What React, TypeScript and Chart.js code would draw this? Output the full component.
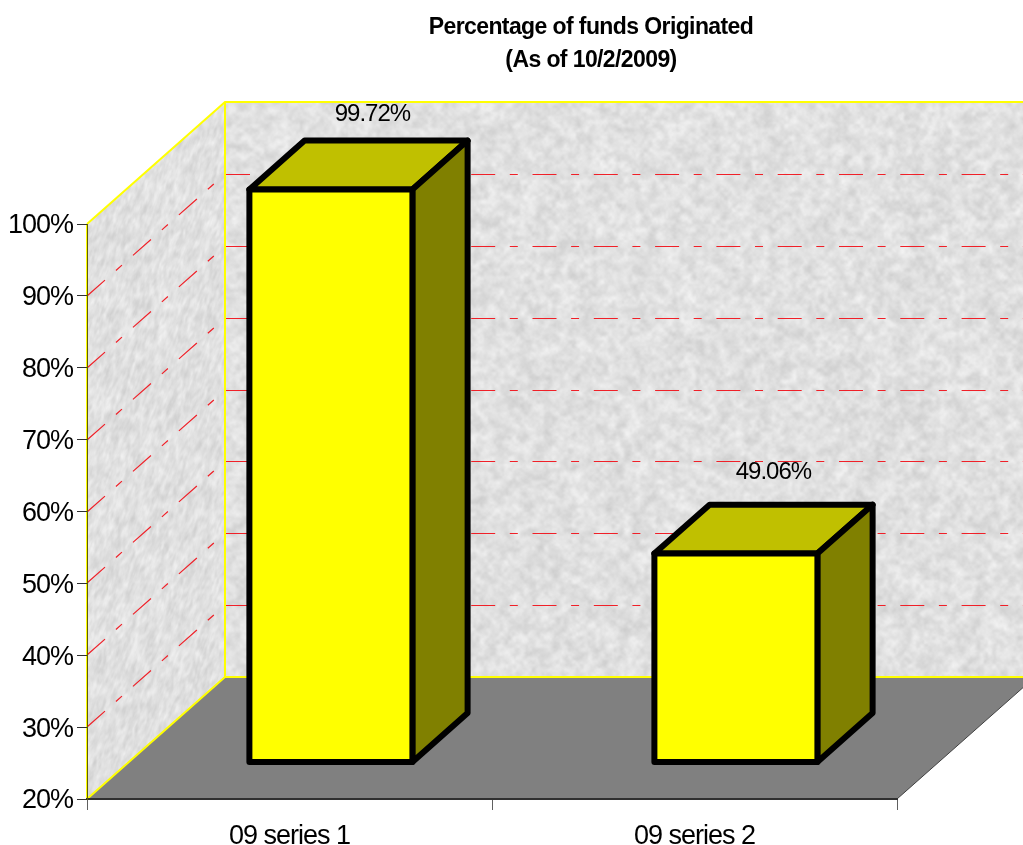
import React, { useEffect, useRef } from "react";
import { Chart, BarController, BarElement, CategoryScale, LinearScale, Title } from "chart.js";

const categories = ["09 series 1", "09 series 2"];
const fundedPercent = [99.72, 49.06];
const valueLabels = ["99.72%", "49.06%"];
const titleLines = ["Percentage of funds Originated", "(As of 10/2/2009)"];

// Projection of the chart's depth axis on the page.
const DEPTH_X = 138;
const DEPTH_Y = -122;
const BAR_DEPTH_START = 0.3;
const BAR_DEPTH_END = 0.7;

const FONT = "'Liberation Sans', Arial, sans-serif";
const TOP_FACE = "#c0c000";
const SIDE_FACE = "#808000";
const WALL_EDGE = "#ffff00";
const FLOOR = "#808080";
const GRID_RED = "#f02028";
const GRID_DASH = [24, 14.6, 8, 14.7];
const LABEL_SHIFT = [
  { dx: 41.5, dy: -26 },
  { dx: 37.5, dy: -32 },
];

// Mottled stone surface used on the walls, built from a seeded generator.
function makeStoneTexture(): HTMLCanvasElement {
  let seed = 20091002;
  const next = () => {
    seed = (seed * 1664525 + 1013904223) >>> 0;
    return seed / 4294967296;
  };
  const layer = (size: number) => {
    const c = document.createElement("canvas");
    c.width = c.height = size;
    const g = c.getContext("2d")!;
    const img = g.createImageData(size, size);
    for (let i = 0; i < img.data.length; i += 4) {
      const v = 202 + next() * 44;
      img.data[i] = img.data[i + 1] = img.data[i + 2] = v;
      img.data[i + 3] = 255;
    }
    g.putImageData(img, 0, 0);
    return c;
  };
  const out = document.createElement("canvas");
  out.width = out.height = 1200;
  const ctx = out.getContext("2d")!;
  ctx.imageSmoothingEnabled = true;
  ctx.imageSmoothingQuality = "high";
  ctx.drawImage(layer(150), 0, 0, 1200, 1200);
  ctx.globalAlpha = 0.5;
  ctx.drawImage(layer(300), 0, 0, 1200, 1200);
  ctx.globalAlpha = 0.15;
  ctx.drawImage(layer(600), 0, 0, 1200, 1200);
  ctx.globalAlpha = 1;
  return out;
}

function polygon(ctx: CanvasRenderingContext2D, pts: number[][]) {
  ctx.beginPath();
  pts.forEach(([x, y], i) => (i ? ctx.lineTo(x, y) : ctx.moveTo(x, y)));
  ctx.closePath();
}

// A bar drawn as a box standing on the floor, set back along the depth axis.
class BoxElement extends BarElement {
  static id = "box3d";
  draw(ctx: CanvasRenderingContext2D) {
    const { x, y, base, width } = (this as any).getProps(["x", "y", "base", "width"]);
    const o = (this as any).options;
    const l = x - width / 2 + DEPTH_X * BAR_DEPTH_START;
    const r = l + width;
    const t = y + DEPTH_Y * BAR_DEPTH_START;
    const b = base + DEPTH_Y * BAR_DEPTH_START;
    const span = BAR_DEPTH_END - BAR_DEPTH_START;
    const dx = DEPTH_X * span;
    const dy = DEPTH_Y * span;
    ctx.save();
    ctx.lineJoin = "round";
    ctx.lineWidth = o.borderWidth;
    ctx.strokeStyle = o.borderColor;
    const faces: [string, number[][]][] = [
      [TOP_FACE, [[l, t], [r, t], [r + dx, t + dy], [l + dx, t + dy]]],
      [SIDE_FACE, [[r, t], [r + dx, t + dy], [r + dx, b + dy], [r, b]]],
      [o.backgroundColor, [[l, t], [r, t], [r, b], [l, b]]],
    ];
    for (const [fill, pts] of faces) {
      polygon(ctx, pts);
      ctx.fillStyle = fill;
      ctx.fill();
      ctx.stroke();
    }
    ctx.restore();
  }
}

class BoxController extends BarController {
  static id = "box3d";
  static defaults = { dataElementType: "box3d" };
}

Chart.register(BoxController, BoxElement, CategoryScale, LinearScale, Title);

const roomPlugin = {
  id: "room",
  afterLayout(chart: any) {
    // The heading sits to the right of the canvas centre, with its own tracking.
    const block = chart.titleBlock;
    block.left += 142.5;
    block.right += 142.5;
    if (!block.$tracked) {
      const drawTitle = block.draw;
      block.draw = function () {
        chart.ctx.letterSpacing = "-0.6px";
        drawTitle.call(block);
        chart.ctx.letterSpacing = "-1px";
      };
      block.$tracked = true;
    }
  },
  beforeDraw(chart: any) {
    const { ctx, chartArea: a, scales } = chart;
    const y = scales.y;
    const { left, right, top, bottom } = a;
    const stone = (chart.$stone ||= makeStoneTexture());
    ctx.letterSpacing = "-1px";
    ctx.save();

    // Back wall
    ctx.save();
    polygon(ctx, [
      [left + DEPTH_X, top + DEPTH_Y],
      [right + DEPTH_X, top + DEPTH_Y],
      [right + DEPTH_X, bottom + DEPTH_Y],
      [left + DEPTH_X, bottom + DEPTH_Y],
    ]);
    ctx.fillStyle = ctx.createPattern(stone, "repeat");
    ctx.fill();
    ctx.restore();

    // Side wall, with the surface sheared along the depth axis
    ctx.save();
    polygon(ctx, [
      [left, top],
      [left + DEPTH_X, top + DEPTH_Y],
      [left + DEPTH_X, bottom + DEPTH_Y],
      [left, bottom],
    ]);
    ctx.clip();
    ctx.transform(0.6, (DEPTH_Y / DEPTH_X) * 0.6, 0, 1, left, top);
    ctx.fillStyle = ctx.createPattern(stone, "repeat");
    ctx.fillRect(-20, -400, 300, 1200);
    ctx.restore();

    // Floor
    polygon(ctx, [
      [left, bottom],
      [right, bottom],
      [right + DEPTH_X, bottom + DEPTH_Y],
      [left + DEPTH_X, bottom + DEPTH_Y],
    ]);
    ctx.fillStyle = FLOOR;
    ctx.fill();

    // Dash-dot gridlines on the two walls
    ctx.strokeStyle = GRID_RED;
    ctx.setLineDash(GRID_DASH);
    for (const tick of y.ticks) {
      if (tick.value === y.min || tick.value === y.max) continue;
      const py = Math.round(y.getPixelForValue(tick.value));
      ctx.lineWidth = 1.2;
      ctx.beginPath();
      ctx.moveTo(left, py);
      ctx.lineTo(left + DEPTH_X - 1, py + DEPTH_Y + 1);
      ctx.stroke();
      ctx.lineWidth = 1;
      ctx.beginPath();
      ctx.moveTo(left + DEPTH_X + 1, py + DEPTH_Y + 0.5);
      ctx.lineTo(right + DEPTH_X, py + DEPTH_Y + 0.5);
      ctx.stroke();
    }
    ctx.setLineDash([]);

    // Yellow wall edges
    ctx.strokeStyle = WALL_EDGE;
    ctx.lineWidth = 2;
    ctx.beginPath();
    ctx.moveTo(left, top);
    ctx.lineTo(left + DEPTH_X, top + DEPTH_Y);
    ctx.lineTo(right + DEPTH_X, top + DEPTH_Y);
    ctx.moveTo(left + DEPTH_X, top + DEPTH_Y);
    ctx.lineTo(left + DEPTH_X, bottom + DEPTH_Y);
    ctx.lineTo(right + DEPTH_X, bottom + DEPTH_Y);
    ctx.moveTo(left + DEPTH_X, bottom + DEPTH_Y);
    ctx.lineTo(left, bottom);
    ctx.moveTo(left, top);
    ctx.lineTo(left, bottom);
    ctx.stroke();

    // Front-right floor edge
    ctx.strokeStyle = "#404040";
    ctx.lineWidth = 1;
    ctx.beginPath();
    ctx.moveTo(right, bottom);
    ctx.lineTo(right + DEPTH_X, bottom + DEPTH_Y);
    ctx.stroke();
    ctx.restore();
  },
  afterDatasetsDraw(chart: any) {
    const { ctx } = chart;
    ctx.save();
    ctx.font = `24px ${FONT}`;
    ctx.fillStyle = "#000";
    ctx.textAlign = "center";
    ctx.textBaseline = "middle";
    chart.getDatasetMeta(0).data.forEach((bar: any, i: number) => {
      const px = bar.x + DEPTH_X * BAR_DEPTH_START + LABEL_SHIFT[i].dx;
      const py = bar.y + DEPTH_Y * BAR_DEPTH_END + LABEL_SHIFT[i].dy;
      ctx.fillText(valueLabels[i], px, py);
    });
    ctx.restore();
  },
};

export default function App() {
  const ref = useRef<HTMLCanvasElement>(null);
  useEffect(() => {
    const chart = new Chart(ref.current!, {
      type: "box3d" as any,
      data: {
        labels: categories,
        datasets: [
          {
            data: fundedPercent,
            base: 20,
            backgroundColor: "#ffff00",
            borderColor: "#000000",
            borderWidth: 6,
            barPercentage: 0.4025,
            categoryPercentage: 1,
            clip: false,
          } as any,
        ],
      },
      plugins: [roomPlugin as any],
      options: {
        animation: false,
        responsive: false,
        events: [],
        layout: { padding: { left: 0, top: 0, right: 126, bottom: 0 } },
        plugins: {
          legend: { display: false },
          title: {
            display: true,
            text: titleLines,
            color: "#000",
            font: { family: FONT, size: 23, weight: "bold", lineHeight: 1.435 },
            padding: { top: 11, bottom: 147 },
          },
        },
        scales: {
          x: {
            type: "category",
            offset: true,
            border: { color: "#303030", width: 2 },
            grid: { offset: true, drawOnChartArea: false, color: "#606060", tickLength: 11 },
            ticks: { color: "#000", padding: 10, maxRotation: 0, font: { family: FONT, size: 27 } },
            afterFit(s: any) {
              s.height = 46;
            },
          },
          y: {
            type: "linear",
            min: 20,
            max: 100,
            border: { color: "#5f5f00", width: 1 },
            grid: { drawOnChartArea: false, color: "#303030", tickLength: 10 },
            ticks: {
              stepSize: 10,
              color: "#000",
              padding: 4,
              labelOffset: 2,
              font: { family: FONT, size: 27 },
              callback: (v: any) => `${v}%`,
            },
            afterFit(s: any) {
              s.width = 87;
            },
          },
        },
      } as any,
    });
    return () => chart.destroy();
  }, []);
  return (
    <canvas
      ref={ref}
      width={1023}
      height={845}
      style={{ position: "absolute", left: 0, top: 0, display: "block" }}
    />
  );
}
